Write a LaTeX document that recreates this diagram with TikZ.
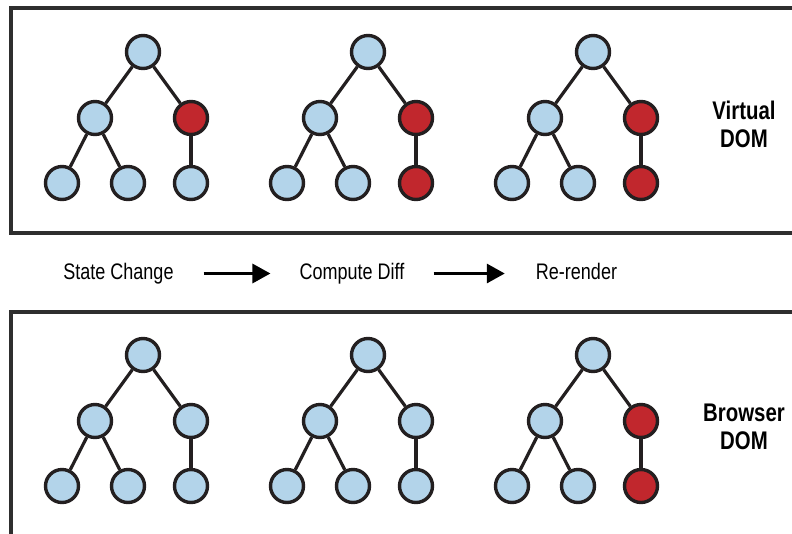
\documentclass[tikz,border=0pt]{standalone}
\usepackage{fontspec}
\setmainfont[FakeStretch=0.8]{Liberation Sans}
\usetikzlibrary{arrows.meta,calc}
\definecolor{dombl}{HTML}{B3D4EA}
\definecolor{domrd}{HTML}{C1272D}
\definecolor{ink}{HTML}{231F20}
\definecolor{boxc}{HTML}{2E2E2E}
\tikzset{
  dnode/.style={circle,draw=ink,line width=3.4pt,minimum size=33pt,inner sep=0pt},
  bl/.style={dnode,fill=dombl},
  rd/.style={dnode,fill=domrd},
  tedge/.style={draw=ink,line width=3.2pt},
  frame/.style={draw=boxc,line width=3.2pt},
  steplabel/.style={font=\fontsize{22.5}{26}\selectfont,inner sep=0pt,anchor=base},
  sidelabel/.style={font=\bfseries\fontsize{25.5}{28}\selectfont,align=center,inner sep=0pt},
  flow/.style={draw=black,line width=3.2pt,-{Triangle[length=18pt,width=19pt]}}
}
\begin{document}
\begin{tikzpicture}[x=1pt,y=-1pt]
\useasboundingbox (0,0) rectangle (792,533);
\fill[white] (0,0) rectangle (792,533);
% frames
\draw[frame] (800,8) -- (11,8) -- (11,233) -- (800,233);
\draw[frame] (800,312) -- (11,312) -- (11,545);
% trees: id / root x / root y / mid-right style / leaf-right style
\foreach \t/\rx/\ry/\ma/\lb in {a/143/52/rd/bl, b/368/52/rd/rd, c/593/52/rd/rd,
                                 d/143/355/bl/bl, e/368/355/bl/bl, f/593/355/rd/rd}{
  \node[bl] (\t r) at (\rx,\ry) {};
  \node[bl] (\t ml) at (\rx-48,\ry+66) {};
  \node[\ma] (\t mr) at (\rx+48,\ry+66) {};
  \node[bl] (\t l1) at (\rx-81,\ry+131) {};
  \node[bl] (\t l2) at (\rx-15,\ry+131) {};
  \node[\lb] (\t l3) at (\rx+48,\ry+131) {};
  \draw[tedge] (\t r) -- (\t ml);
  \draw[tedge] (\t r) -- (\t mr);
  \draw[tedge] (\t ml) -- (\t l1);
  \draw[tedge] (\t ml) -- (\t l2);
  \draw[tedge] (\t mr) -- (\t l3);
}
% side labels
\node[sidelabel] (vdom) at (744,124) {Virtual\\DOM};
\node[sidelabel] (bdom) at (744,427) {Browser\\DOM};
% flow labels
\node[steplabel] (sc) at (118.5,279.5) {State Change};
\node[steplabel] (cd) at (352,279.5) {Compute Diff};
\node[steplabel] (rr) at (576.5,279.5) {Re-render};
\draw[flow] ($(sc.base east)+(30,-6)$) -- ($(cd.base west)+(-29,-6)$);
\draw[flow] ($(cd.base east)+(29,-6)$) -- ($(rr.base west)+(-31,-6)$);
\end{tikzpicture}
\end{document}
